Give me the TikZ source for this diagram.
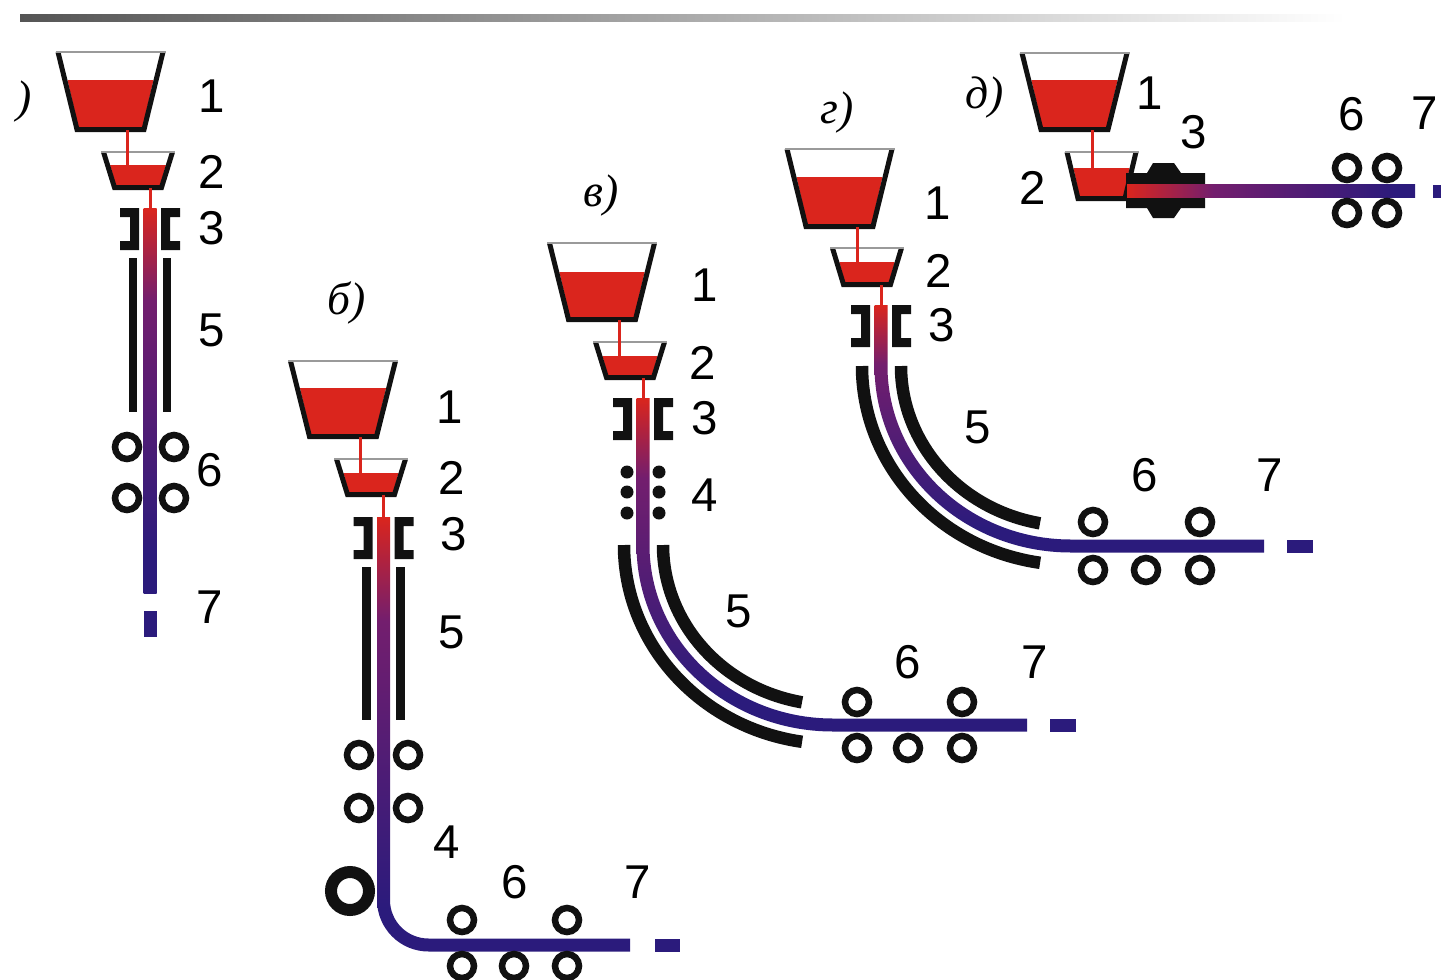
\documentclass[tikz,border=0pt]{standalone}
\usepackage{fontspec}
\setmainfont{Liberation Sans}
\newfontfamily\variantfont{Liberation Serif}
\usepackage{xcolor}
\definecolor{CastRed}{HTML}{DA251D}
\definecolor{CastPurple}{HTML}{731E6E}
\definecolor{CastBlue}{HTML}{2B1B7C}
\definecolor{CastBlack}{HTML}{111111}
\definecolor{CastGray}{HTML}{555555}
\definecolor{CastRim}{HTML}{9A9A9A}
% Strand cools from red through purple to blue
\pgfdeclareverticalshading{strandfade}{100bp}{
    color(0bp)=(CastBlue); color(30bp)=(CastBlue); color(63bp)=(CastPurple);
    color(75bp)=(CastRed); color(100bp)=(CastRed)}
\pgfdeclarehorizontalshading{strandfadeside}{100bp}{
    color(0bp)=(CastRed); color(25bp)=(CastRed); color(40bp)=(CastPurple);
    color(72bp)=(CastBlue); color(100bp)=(CastBlue)}
\tikzset{
    % Vessel styles
    wall/.style={
        draw=CastBlack,
        line width=0.5mm,
        line join=miter
    },
    rim/.style={
        draw=CastRim,
        line width=0.15mm
    },
    melt/.style={
        fill=CastRed
    },
    pour/.style={
        draw=CastRed,
        line width=0.3mm
    },
    % Cooling zone and roller styles
    cooler/.style={
        draw=CastBlack,
        line width=0.85mm
    },
    bentcooler/.style={
        draw=CastBlack,
        line width=1.25mm
    },
    roll/.style={
        draw=CastBlack,
        line width=0.65mm
    },
    bendroll/.style={
        draw=CastBlack,
        line width=1.2mm
    },
    spray/.style={
        fill=CastBlack
    },
    % Strand styles
    hotstrand/.style={
        shading=strandfade
    },
    sidestrand/.style={
        shading=strandfadeside
    },
    tail/.style={
        fill=CastBlue
    },
    % Text styles
    num/.style={
        font=\fontsize{13.5}{16}\selectfont,
        inner sep=0pt
    },
    variant/.style={
        font=\variantfont\itshape\fontsize{13}{16}\selectfont,
        inner sep=0pt
    },
    % Ladle and tundish: top half width, bottom half width, depth, melt level
    pics/vessel/.style n args={4}{code={
        \fill[melt] ({-(#1-5)+(#1-#2)*#4/#3},#4) -- ({(#1-5)-(#1-#2)*#4/#3},#4)
            -- ({#2-3},{#3-4}) -- ({-#2+3},{#3-4}) -- cycle;
        \draw[wall] ({-#1+2.5},0) -- ({-#2+1.5},{#3-2.5}) -- ({#2-1.5},{#3-2.5}) -- ({#1-2.5},0);
        \draw[rim] (-#1,0) -- (#1,0);
    }},
    % Mould: two brackets round the strand
    pics/mould/.style={code={
        \fill[CastBlack] (-30,0) -- (-11,0) -- (-11,42) -- (-30,42) -- (-30,33) -- (-20,33) -- (-20,9) -- (-30,9) -- cycle;
        \fill[CastBlack] (30,0) -- (11,0) -- (11,42) -- (30,42) -- (30,33) -- (20,33) -- (20,9) -- (30,9) -- cycle;
    }}
}

\begin{document}
\begin{tikzpicture}[x=0.1mm, y=-0.1mm]
    \useasboundingbox (0,0) rectangle (1441,980);
    \shade[left color=CastGray, right color=white] (20,14) rectangle (1345,21);

    \node[variant] (alabel) at (24,102) {)};
    \pic at (110.5,52) {vessel={55}{35}{80}{28}};
    \pic at (138,152) {vessel={37}{25}{38}{13}};
    \draw[pour] (127,130) -- (127,165);
    \draw[pour] (150,188) -- (150,209);
    \pic at (150,208) {mould};
    \draw[cooler] (133,258) -- (133,412) (167,258) -- (167,412);
    \shade[hotstrand] (143.5,208) rectangle (156.5,593);
    \fill[tail] (143.5,611) rectangle (156.5,637);
    \draw[roll] (127,447) circle[radius=12] (174,447) circle[radius=12]
        (127,498) circle[radius=12] (174,498) circle[radius=12];
    \node[num] (a1) at (212,96) {1};
    \node[num] (a2) at (212,172) {2};
    \node[num] (a3) at (212,228) {3};
    \node[num] (a5) at (212,330) {5};
    \node[num] (a6) at (210,470) {6};
    \node[num] (a7) at (210,607) {7};

    \node[variant] (blabel) at (347,303) {б)};
    \pic at (343,361) {vessel={55}{35}{78}{27}};
    \pic at (371,459) {vessel={37}{25}{38}{14}};
    \draw[pour] (360,437) -- (360,474);
    \draw[pour] (383.5,495) -- (383.5,518);
    \pic at (383.5,517) {mould};
    \draw[cooler] (366.5,567) -- (366.5,720) (400.5,567) -- (400.5,720);
    \shade[hotstrand] (377,517) -- (377,900) arc[start angle=180, end angle=90, radius=51.5]
        -- (630,951.5) -- (630,938.5) -- (428.5,938.5)
        arc[start angle=90, end angle=180, radius=38.5] -- (390,517) -- cycle;
    \fill[tail] (655,938.5) rectangle (680,951.5);
    \draw[roll] (359,755) circle[radius=12] (408,755) circle[radius=12]
        (359,808) circle[radius=12] (408,808) circle[radius=12];
    \draw[bendroll] (350,891) circle[radius=19];
    \draw[roll] (462,920) circle[radius=12] (567,920) circle[radius=12]
        (462,966) circle[radius=12] (514,966) circle[radius=12] (567,966) circle[radius=12];
    \node[num] (b1) at (450,407) {1};
    \node[num] (b2) at (452,478) {2};
    \node[num] (b3) at (454,534) {3};
    \node[num] (b5) at (452,632) {5};
    \node[num] (b4) at (447,842) {4};
    \node[num] (b6) at (515,882) {6};
    \node[num] (b7) at (638,882) {7};

    \node[variant] (vlabel) at (601,196) {в)};
    \pic at (602,243) {vessel={55}{35}{79}{29}};
    \pic at (630,342) {vessel={37}{25}{38}{14}};
    \draw[pour] (619,320) -- (619,357);
    \draw[pour] (643,378) -- (643,399);
    \pic at (643,398) {mould};
    \fill[spray] (627,472) circle[radius=6.5] (659,472) circle[radius=6.5]
        (627,492) circle[radius=6.5] (659,492) circle[radius=6.5]
        (627,513) circle[radius=6.5] (659,513) circle[radius=6.5];
    \draw[bentcooler] (663,545) arc[start angle=180, end angle=100.5, x radius=170, y radius=160];
    \draw[bentcooler] (624,545) arc[start angle=180, end angle=98.5, x radius=209, y radius=199];
    \shade[hotstrand] (636.5,398) -- (636.5,545)
        arc[start angle=180, end angle=90, x radius=196.5, y radius=186.5]
        -- (1027,731.5) -- (1027,718.5) -- (833,718.5)
        arc[start angle=90, end angle=180, x radius=183.5, y radius=173.5] -- (649.5,398) -- cycle;
    \fill[tail] (1050,718.5) rectangle (1076,731.5);
    \draw[roll] (857,702) circle[radius=12] (962,702) circle[radius=12]
        (857,748) circle[radius=12] (908,748) circle[radius=12] (962,748) circle[radius=12];
    \node[num] (v1) at (705,285) {1};
    \node[num] (v2) at (703,363) {2};
    \node[num] (v3) at (705,418) {3};
    \node[num] (v4) at (705,495) {4};
    \node[num] (v5) at (739,611) {5};
    \node[num] (v6) at (908,662) {6};
    \node[num] (v7) at (1035,662) {7};

    \node[variant] (glabel) at (837,113) {г)};
    \pic at (839.5,149) {vessel={55}{35}{80}{28}};
    \pic at (867,248) {vessel={37}{25}{39}{14}};
    \draw[pour] (857,227) -- (857,263);
    \draw[pour] (881,285) -- (881,306);
    \pic at (881,305) {mould};
    \draw[bentcooler] (901,366) arc[start angle=180, end angle=100.5, x radius=170, y radius=160];
    \draw[bentcooler] (862,366) arc[start angle=180, end angle=98.5, x radius=209, y radius=199];
    \shade[hotstrand] (874.5,305) -- (874.5,366)
        arc[start angle=180, end angle=90, x radius=196.5, y radius=186.5]
        -- (1264,552.5) -- (1264,539.5) -- (1071,539.5)
        arc[start angle=90, end angle=180, x radius=183.5, y radius=173.5] -- (887.5,305) -- cycle;
    \fill[tail] (1287,539.5) rectangle (1313,552.5);
    \draw[roll] (1093,522) circle[radius=12] (1200,522) circle[radius=12]
        (1093,570) circle[radius=12] (1146,570) circle[radius=12] (1200,570) circle[radius=12];
    \node[num] (g1) at (938,203) {1};
    \node[num] (g2) at (939,271) {2};
    \node[num] (g3) at (942,325) {3};
    \node[num] (g5) at (978,427) {5};
    \node[num] (g6) at (1145,475) {6};
    \node[num] (g7) at (1270,475) {7};

    \node[variant] (dlabel) at (985,98) {д)};
    \pic at (1074.5,53) {vessel={55}{35}{79}{27}};
    \pic at (1101.5,152) {vessel={37}{25}{49}{16}};
    \draw[pour] (1092,130) -- (1092,169);
    \fill[CastBlack] (1126,173) -- (1147,173) -- (1153,163) -- (1174,163) -- (1181,173) -- (1205,173)
        -- (1205,208) -- (1181,208) -- (1174,218) -- (1153,218) -- (1147,208) -- (1126,208) -- cycle;
    \shade[sidestrand] (1127,184.5) rectangle (1415,197.5);
    \fill[tail] (1433,184.5) rectangle (1450,197.5);
    \draw[roll] (1347,168) circle[radius=12] (1387,168) circle[radius=12]
        (1347,213) circle[radius=12] (1387,213) circle[radius=12];
    \node[num] (d1) at (1150,93) {1};
    \node[num] (d2) at (1033,188) {2};
    \node[num] (d3) at (1194,132) {3};
    \node[num] (d6) at (1352,114) {6};
    \node[num] (d7) at (1425,113) {7};
\end{tikzpicture}
\end{document}
